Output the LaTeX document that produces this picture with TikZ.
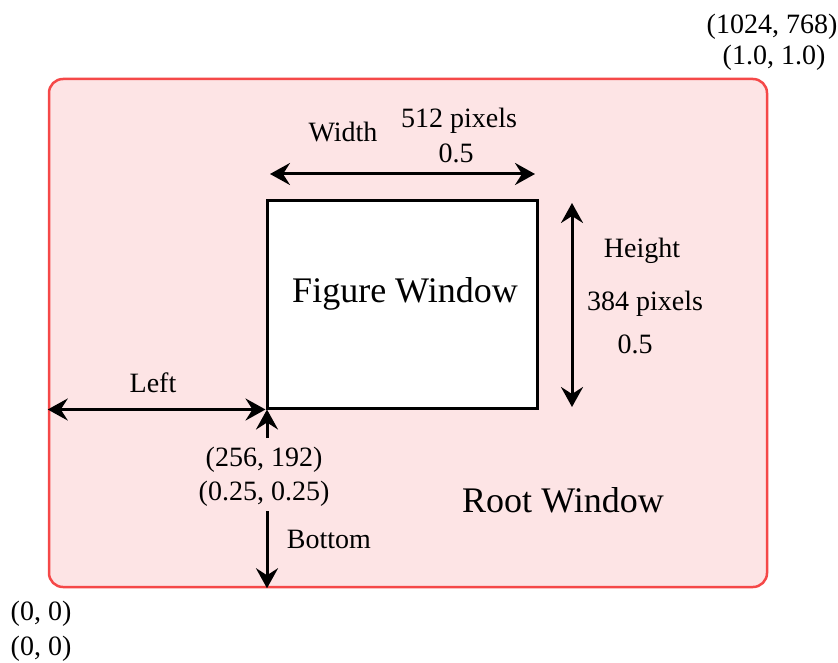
\documentclass[tikz,border=0pt]{standalone}
\usepackage{fontspec}
\setmainfont{Liberation Serif}
\usetikzlibrary{arrows.meta,positioning}

\definecolor{rootred}{HTML}{F54848}
\definecolor{rootfill}{HTML}{FDE4E5}

\begin{document}
\begin{tikzpicture}[x=0.5pt,y=-0.5pt]

\tikzstyle{rootwin} = [draw=rootred,line width=1.25pt,fill=rootfill,rounded corners=7pt,inner sep=0]%
\tikzstyle{figwin} = [draw=black,line width=1.5pt,fill=white,inner sep=0]%
\tikzstyle{dimarc} = [{Stealth[length=10pt,width=11pt,inset=3.5pt]}-{Stealth[length=10pt,width=11pt,inset=3.5pt]},line width=1.5pt]%
\tikzstyle{onearc} = [-{Stealth[length=10pt,width=11pt,inset=3.5pt]},line width=1.5pt]%
\tikzstyle{lbl} = [inner sep=0,font=\fontsize{14}{17}\selectfont,align=center]%
\tikzstyle{biglbl} = [inner sep=0,font=\fontsize{18}{22}\selectfont]%

\useasboundingbox (0,0) rectangle (838,662);

\node[rootwin,minimum width=359pt,minimum height=254pt] (root) at (408,333) {};
\node[figwin,minimum width=135pt,minimum height=103.5pt] (fig) at (402,304.5) {};

\node[biglbl] (figname) at (405,294) {Figure Window};
\node[biglbl] (rootname) at (563,500) {Root Window};

% width
\coordinate (wl) at (270,174);
\coordinate (wr) at (535,174);
\draw[dimarc] (wl) -- (wr);
\node[lbl] (wtxt) at (343,132) {Width};
\node[lbl] (wpix) at (459,121) {512 pixels};
\node[lbl] (wfrac) at (456,153) {0.5};

% height
\coordinate (ht) at (572,203);
\coordinate (hb) at (572,407);
\draw[dimarc] (ht) -- (hb);
\node[lbl] (htxt) at (642,251) {Height};
\node[lbl] (hpix) at (645,304) {384 pixels};
\node[lbl] (hfrac) at (635,344) {0.5};

% left and bottom
\draw[dimarc] (root.west |- fig.south west) -- (fig.south west);
\node[lbl] (ltxt) at (153,383) {Left};
\coordinate (ubase) at (267,438);
\draw[onearc] (ubase) -- (ubase |- fig.south);
\node[lbl] (origpix) at (264,460) {(256, 192)};
\node[lbl] (origfrac) at (264,494) {(0.25, 0.25)};
\coordinate (bbase) at (267,511);
\draw[onearc] (bbase) -- (bbase |- root.south);
\node[lbl] (btxt) at (329,539) {Bottom};

% corners
\node[lbl] (tr1) at (772,27) {(1024, 768)};
\node[lbl] (tr2) at (774,58) {(1.0, 1.0)};
\node[lbl] (bl1) at (41,614) {(0, 0)};
\node[lbl] (bl2) at (41,649) {(0, 0)};

\end{tikzpicture}
\end{document}
